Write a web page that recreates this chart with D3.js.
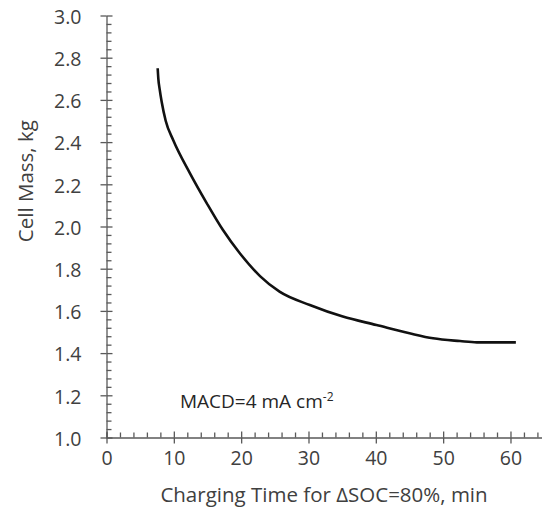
<!DOCTYPE html>
<html><head><meta charset="utf-8">
<script src="https://cdn.jsdelivr.net/npm/d3@7"></script>
<style>
body{margin:0;background:#fff;}
svg{display:block;font-family:"Open Sans",sans-serif;}
</style></head>
<body><svg id="c" width="542" height="517"></svg>
<script>
const times = [7.6, 7.7, 7.9, 8.2, 8.8, 9.9, 12.4, 14.9, 17.3, 19.8, 22.8, 25.7, 30.2, 35.1, 40.1, 45.0, 48.5, 52.5, 55.0, 60.8];
const mass  = [2.75, 2.70, 2.65, 2.59, 2.50, 2.41, 2.252, 2.11, 1.983, 1.873, 1.765, 1.691, 1.628, 1.573, 1.533, 1.494, 1.470, 1.457, 1.451, 1.451];
const xTicks = [0, 10, 20, 30, 40, 50, 60];
const yTicks = [1.0, 1.2, 1.4, 1.6, 1.8, 2.0, 2.2, 2.4, 2.6, 2.8, 3.0];
const xTitle = "Charging Time for \u0394SOC=80%, min";
const yTitle = "Cell Mass, kg";
const note = "MACD=4 mA cm";
const noteSup = "-2";

const svg = d3.select("#c");
const x0 = 106.5, xPer = 6.733;
const x = d3.scaleLinear().domain([0, 65]).range([x0, x0 + 65 * xPer]);
const y = d3.scaleLinear().domain([1, 3]).range([437.5, 15.5]);
const axisCol = "#595959", textCol = "#404040";

const xMinor = d3.range(0, 66, 2).filter(v => v % 10 !== 0);
const yMinor = d3.range(0, 51).map(i => +(1 + i * 0.04).toFixed(2)).filter(v => Math.abs(v * 5 - Math.round(v * 5)) > 1e-6);

function style(g){
  g.selectAll(".domain").attr("stroke", axisCol).attr("stroke-width", 1.3);
  g.selectAll(".tick line").attr("stroke", axisCol).attr("stroke-width", 1.3);
  g.selectAll("text").attr("fill", textCol).attr("font-size", 19.5).attr("font-family", "Open Sans");
}

// x axis: minor ticks (inside), major ticks crossing
const xa = svg.append("g").attr("transform", `translate(0,${y(1)})`);
xa.append("g").call(d3.axisTop(x).tickValues(xMinor).tickSize(5).tickFormat("")).call(style);
xa.append("g").call(d3.axisTop(x).tickValues(xTicks).tickSize(6).tickFormat("")).call(style).select(".domain").remove();
xa.append("g").call(d3.axisBottom(x).tickValues(xTicks).tickSizeInner(6).tickSizeOuter(0).tickPadding(8).tickFormat(d3.format("d"))).call(style)
  .select(".domain").remove();

// y axis
const ya = svg.append("g").attr("transform", `translate(${x0},0)`);
ya.append("g").call(d3.axisRight(y).tickValues(yMinor).tickSize(5).tickFormat("")).call(style).select(".domain").remove();
ya.append("g").call(d3.axisRight(y).tickValues(yTicks).tickSize(6).tickFormat("")).call(style).select(".domain").remove();
ya.append("g").call(d3.axisLeft(y).tickValues(yTicks).tickSizeInner(6).tickSizeOuter(0).tickPadding(19).tickFormat(d3.format(".1f"))).call(style);
ya.selectAll("text").attr("dy", "0.4em");

// titles
svg.append("text").attr("x", 324).attr("y", 502).attr("text-anchor", "middle")
  .attr("fill", textCol).attr("font-size", 20.5).text(xTitle);
svg.append("text").attr("transform", `translate(33,${y(2.215)}) rotate(-90)`).attr("text-anchor", "middle")
  .attr("fill", textCol).attr("font-size", 20.5).text(yTitle);

// annotation
const t = svg.append("text").attr("x", 180).attr("y", y(1.14)).attr("fill", "#262626").attr("font-size", 19).text(note);
t.append("tspan").attr("font-size", 12).attr("dy", -7).text(noteSup);

// curve
svg.append("path").datum(mass).attr("d", d3.line().x((d, i) => x(times[i])).y(d => y(d)).curve(d3.curveMonotoneX))
  .attr("fill", "none").attr("stroke", "#111").attr("stroke-width", 2.6).attr("stroke-linejoin", "round");
</script></body></html>
